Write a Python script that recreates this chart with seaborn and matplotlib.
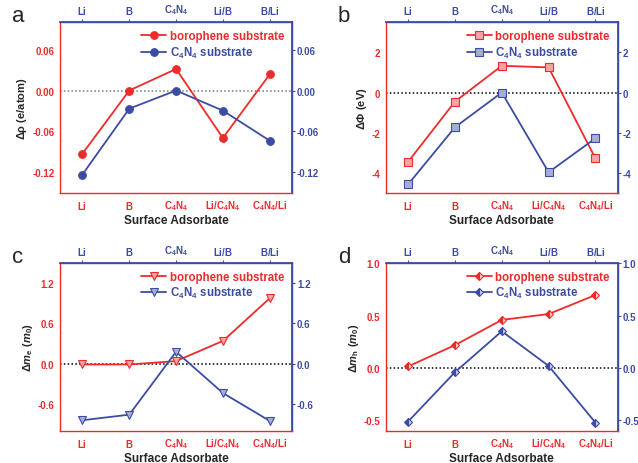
import numpy as np
import pandas as pd
import matplotlib
matplotlib.use("Agg")
import matplotlib.pyplot as plt
import seaborn as sns

sns.set_theme(style="white")
plt.rcParams["font.family"] = ["Liberation Sans", "DejaVu Sans"]
plt.rcParams["font.weight"] = "bold"
plt.rcParams["mathtext.fontset"] = "custom"
plt.rcParams["mathtext.rm"] = "Liberation Sans:bold"
plt.rcParams["mathtext.bf"] = "Liberation Sans:bold"
plt.rcParams["mathtext.it"] = "Liberation Sans:bold:italic"
plt.rcParams["mathtext.default"] = "bf"

RED = "#ee2b2b"
BLUE = "#3d4ca3"

# Adsorbate sites (bottom axis: borophene, top axis: C4N4)
bottom_sites = [r"$\mathbf{Li}$", r"$\mathbf{B}$", r"$\mathbf{C_4N_4}$",
                r"$\mathbf{Li/C_4N_4}$", r"$\mathbf{C_4N_4/Li}$"]
top_sites = [r"$\mathbf{Li}$", r"$\mathbf{B}$", r"$\mathbf{C_4N_4}$",
             r"$\mathbf{Li/B}$", r"$\mathbf{B/Li}$"]
series_names = ["borophene substrate", r"C$_\mathbf{4}$N$_\mathbf{4}$ substrate"]

# (a) charge transfer, e/atom
rho_boro = [-0.0925, 0.0, 0.0315, -0.0695, 0.0237]
rho_c4n4 = [-0.123, -0.0266, 0.0, -0.0295, -0.0735]
# (b) work function change, eV
phi_boro = [-3.45, -0.45, 1.33, 1.25, -3.28]
phi_c4n4 = [-4.57, -1.73, 0.0, -3.97, -2.28]
# (c) electron effective mass change
me_boro = [-0.01, -0.01, 0.04, 0.34, 0.975]
me_c4n4 = [-0.84, -0.757, 0.18, -0.435, -0.85]
# (d) hole effective mass change
mh_boro = [0.015, 0.218, 0.458, 0.514, 0.695]
mh_c4n4 = [-0.51, -0.04, 0.35, 0.02, -0.52]

panels = [
    dict(tag="a", boro=rho_boro, c4n4=rho_c4n4, ylabel=r"$\Delta\rho$ (e/atom)",
         ylim=(-0.15, 0.10), yticks=[-0.12, -0.06, 0.00, 0.06],
         yticklabels=["-0.12", "-0.06", "0.00", "0.06"],
         marker="o", zero_color="#777777", pos=[0.094, 0.582, 0.364, 0.368]),
    dict(tag="b", boro=phi_boro, c4n4=phi_c4n4, ylabel=r"$\Delta\Phi$ (eV)",
         ylim=(-5, 3.5), yticks=[-4, -2, 0, 2],
         yticklabels=["-4", "-2", "0", "2"],
         marker="s", zero_color="black", pos=[0.6045, 0.582, 0.364, 0.368]),
    dict(tag="c", boro=me_boro, c4n4=me_c4n4,
         ylabel=r"$\Delta \mathit{m}_{\mathbf{e}}$ ($\mathit{m}_{\mathbf{0}}$)",
         ylim=(-1.0, 1.5), yticks=[-0.6, 0.0, 0.6, 1.2],
         yticklabels=["-0.6", "0.0", "0.6", "1.2"],
         marker="v", zero_color="black", pos=[0.094, 0.069, 0.364, 0.362]),
    dict(tag="d", boro=mh_boro, c4n4=mh_c4n4,
         ylabel=r"$\Delta \mathit{m}_{\mathbf{h}}$ ($\mathit{m}_{\mathbf{0}}$)",
         ylim=(-0.6, 1.0), yticks=[-0.5, 0.0, 0.5, 1.0],
         yticklabels=["-0.5", "0.0", "0.5", "1.0"],
         marker="D", zero_color="black", pos=[0.6045, 0.069, 0.364, 0.362]),
]

TICK_FS = 7
fig = plt.figure(figsize=(6.38, 4.64), dpi=100)
x = np.arange(len(bottom_sites))

for p in panels:
    ax = fig.add_axes(p["pos"])
    df = pd.DataFrame({
        "site": np.concatenate([x, x]),
        "value": p["boro"] + p["c4n4"],
        "substrate": [series_names[0]] * len(x) + [series_names[1]] * len(x),
    })
    ax.axhline(0, color=p["zero_color"], ls=(0, (1, 1.5)), lw=1.1, zorder=1)
    ms = 5.5 if p["marker"] != "D" else 4.5
    sns.lineplot(data=df, x="site", y="value", hue="substrate",
                 palette=[RED, BLUE], marker=p["marker"], markersize=ms,
                 markeredgewidth=0.8, linewidth=1.3, ax=ax, legend=False, zorder=3)
    series_lines = ax.get_lines()[1:3]
    for line, c in zip(series_lines, [RED, BLUE]):
        light = "#f7a5a5" if c == RED else "#a6aed6"
        line.set_markeredgecolor(c)
        line.set_markerfacecolor(c)
        if p["marker"] in ("s", "v"):
            line.set_markerfacecolor(light)
        if p["marker"] == "D":
            line.set_fillstyle("left")
            line.set_markerfacecoloralt("#fbd0d0" if c == RED else "#c9cfe8")

    ax.set_xlim(-0.48, len(x) - 1 + 0.48)
    ax.set_ylim(*p["ylim"])
    ax.set_xticks(x)
    ax.set_xticklabels(bottom_sites, fontsize=TICK_FS)
    ax.set_yticks(p["yticks"])
    ax.set_yticklabels(p["yticklabels"], fontsize=TICK_FS, fontweight="bold")
    ax.set_xlabel("Surface Adsorbate", fontsize=8.5, fontweight="bold", labelpad=1)
    ax.set_ylabel(p["ylabel"], fontsize=8, fontweight="bold", labelpad=2)
    ax.tick_params(axis="both", direction="out", length=2.5, width=0.8, pad=1.5,
                   colors=RED)
    ax.spines["left"].set_color(RED)
    ax.spines["bottom"].set_color(RED)
    ax.spines["top"].set_color(BLUE)
    ax.spines["right"].set_color(BLUE)
    for s in ax.spines.values():
        s.set_linewidth(1.0)

    top = ax.secondary_xaxis("top")
    top.set_xticks(x)
    top.set_xticklabels(top_sites, fontsize=TICK_FS)
    top.tick_params(direction="out", length=2.5, width=0.8, colors=BLUE, pad=2)
    top.spines["top"].set_color(BLUE)

    right = ax.secondary_yaxis("right")
    right.set_yticks(p["yticks"])
    right.set_yticklabels(p["yticklabels"], fontsize=TICK_FS, fontweight="bold")
    right.tick_params(direction="out", length=2.5, width=0.8, colors=BLUE, pad=1)
    right.spines["right"].set_color(BLUE)

    ax.legend(handles=series_lines, labels=series_names,
              loc="upper right", frameon=False,
              handlelength=2.2, handletextpad=0.3, labelspacing=0.2,
              borderaxespad=0.3, labelcolor="linecolor",
              prop={"weight": "bold", "size": 8.3})

    l, b, w, h = p["pos"]
    fig.text(l - 0.075, b + h + 0.015, p["tag"], fontsize=16, fontweight="normal",
             ha="left", va="center")

fig.savefig("out.png", dpi=100)
